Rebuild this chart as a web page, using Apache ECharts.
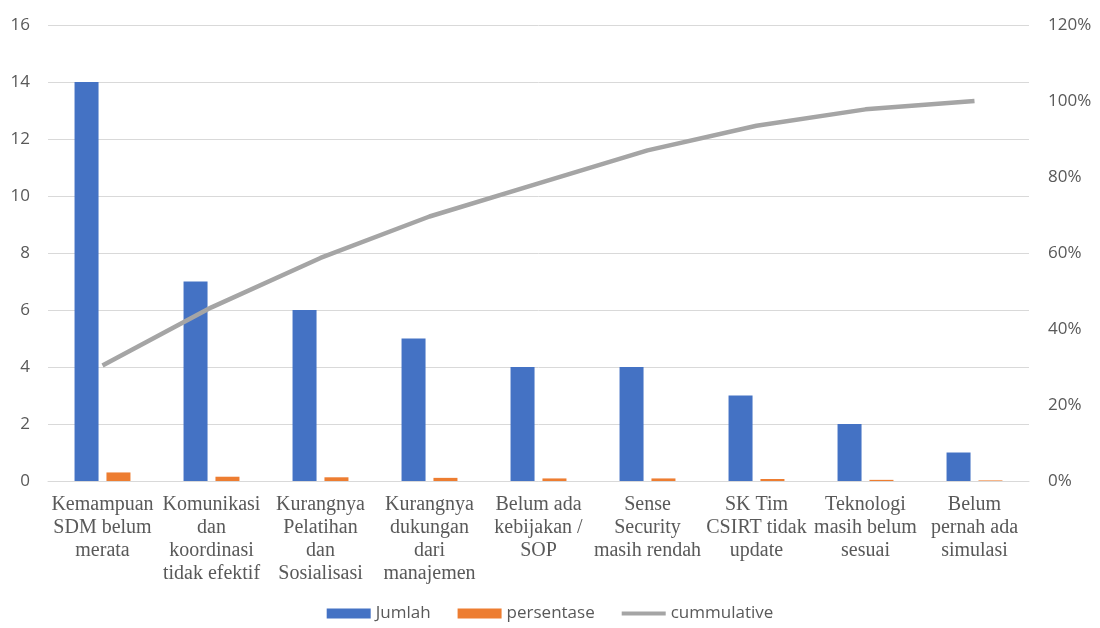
<!DOCTYPE html>
<html>
<head>
<meta charset="utf-8">
<script src="https://cdn.jsdelivr.net/npm/echarts@6/dist/echarts.min.js"></script>
<style>
  html, body { margin: 0; padding: 0; background: #fff; }
  #main { width: 1100px; height: 628px; }
</style>
</head>
<body>
<div id="main"></div>
<script>
// data
const categories = [
    'Kemampuan\nSDM belum\nmerata',
    'Komunikasi\ndan\nkoordinasi\ntidak efektif',
    'Kurangnya\nPelatihan\ndan\nSosialisasi',
    'Kurangnya\ndukungan\ndari\nmanajemen',
    'Belum ada\nkebijakan /\nSOP',
    'Sense\nSecurity\nmasih rendah',
    'SK Tim\nCSIRT tidak\nupdate',
    'Teknologi\nmasih belum\nsesuai',
    'Belum\npernah ada\nsimulasi'
];
const jumlah = [14, 7, 6, 5, 4, 4, 3, 2, 1];
const persentase = [0.30, 0.15, 0.13, 0.11, 0.09, 0.09, 0.07, 0.04, 0.02];
const cummulative = [0.304, 0.457, 0.587, 0.696, 0.783, 0.870, 0.935, 0.978, 1.0];
const leftTicks = { min: 0, max: 16, interval: 2 };
const rightTicks = { min: 0, max: 1.2, interval: 0.2 };

const chart = echarts.init(document.getElementById('main'));

const labelGrey = '#595959';
const gridGrey = '#D9D9D9';

const option = {
    animation: false,
    grid: { left: 48, right: 71, top: 25, bottom: 147, containLabel: false },
    legend: {
        bottom: 1,
        left: 'center',
        itemWidth: 44,
        itemHeight: 10,
        itemGap: 27,
        textStyle: { fontFamily: 'Open Sans', fontSize: 17, color: labelGrey },
        data: [
            { name: 'Jumlah', icon: 'rect' },
            { name: 'persentase', icon: 'rect' },
            // flat path so the legend shows a plain thick line, no marker
            { name: 'cummulative', icon: 'path://M0,0H44V4H0Z', itemStyle: { color: '#A5A5A5' } }
        ]
    },
    xAxis: {
        type: 'category',
        data: categories,
        axisLine: { lineStyle: { color: gridGrey } },
        axisTick: { show: false },
        axisLabel: {
            interval: 0,
            margin: 12,
            fontFamily: 'Liberation Serif',
            fontSize: 20,
            lineHeight: 23,
            color: labelGrey
        }
    },
    yAxis: [
        {
            type: 'value',
            min: leftTicks.min, max: leftTicks.max, interval: leftTicks.interval,
            axisLine: { show: false },
            axisTick: { show: false },
            splitLine: { lineStyle: { color: gridGrey } },
            axisLabel: { fontFamily: 'Open Sans', fontSize: 17, color: labelGrey, margin: 18 }
        },
        {
            type: 'value',
            min: rightTicks.min, max: rightTicks.max, interval: rightTicks.interval,
            axisLine: { show: false },
            axisTick: { show: false },
            splitLine: { show: false },
            axisLabel: {
                fontFamily: 'Open Sans', fontSize: 17, color: labelGrey, margin: 19,
                formatter: v => Math.round(v * 100) + '%'
            }
        }
    ],
    series: [
        {
            name: 'Jumlah',
            type: 'bar',
            data: jumlah,
            barWidth: 24,
            barGap: '33%',
            itemStyle: { color: '#4472C4' }
        },
        {
            name: 'persentase',
            type: 'bar',
            data: persentase,
            barWidth: 24,
            itemStyle: { color: '#ED7D31' }
        },
        {
            name: 'cummulative',
            type: 'line',
            yAxisIndex: 1,
            data: cummulative,
            symbol: 'none',
            lineStyle: { color: '#A5A5A5', width: 4.5 },
            itemStyle: { color: '#A5A5A5' }
        }
    ]
};

option && chart.setOption(option);
</script>
</body>
</html>
